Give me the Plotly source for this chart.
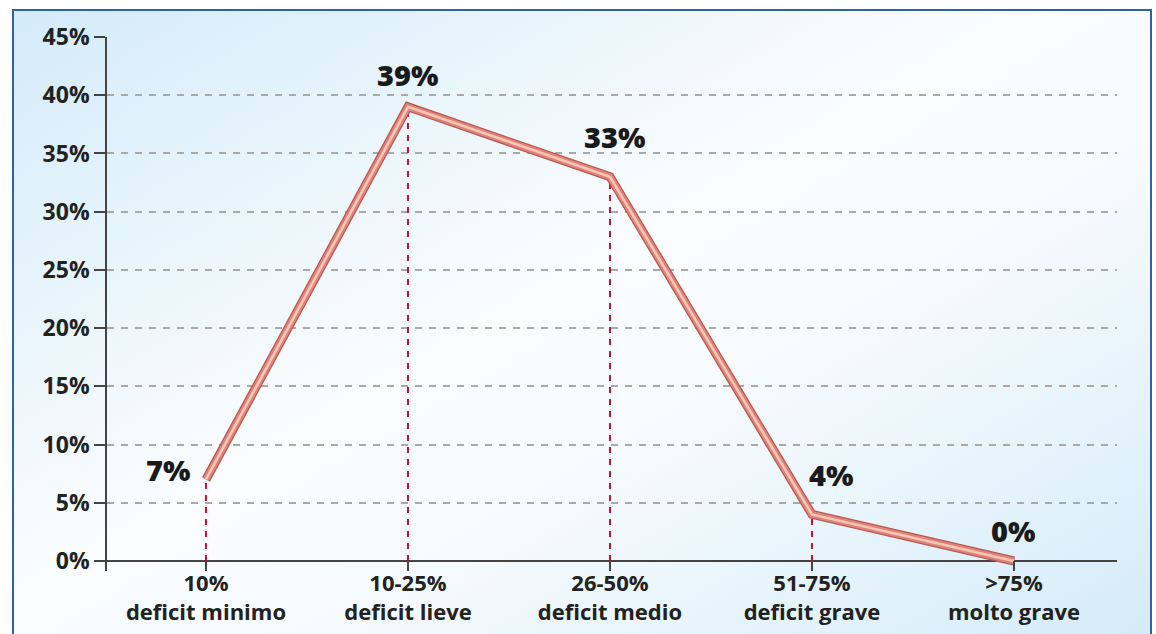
import base64
import plotly.graph_objects as go

# ---- data ----
categories = ["10%<br>deficit minimo", "10-25%<br>deficit lieve", "26-50%<br>deficit medio",
              "51-75%<br>deficit grave", ">75%<br>molto grave"]
values = [7, 39, 33, 4, 0]
value_labels = ["7%", "39%", "33%", "4%", "0%"]
y_ticks = [0, 5, 10, 15, 20, 25, 30, 35, 40, 45]

x_idx = list(range(len(categories)))

# ---- geometry ----
W, H = 1156, 634
L, R, T, B = 107, 39, 37, 63
pw, ph = W - L - R, H - T - B
XMIN, XMAX = -0.49, 4.51
YMIN, YMAX = -0.859, 45

# background gradient image with frame
svg = f'''<svg xmlns="http://www.w3.org/2000/svg" width="1140" height="640" viewBox="0 0 1140 640" preserveAspectRatio="none">
<defs><linearGradient id="g" x1="0" y1="0" x2="1" y2="1">
<stop offset="0" stop-color="#d3ebf9"/>
<stop offset="0.45" stop-color="#fbfdfe"/>
<stop offset="0.6" stop-color="#f6fbfe"/>
<stop offset="1" stop-color="#d2eaf8"/>
</linearGradient></defs>
<rect x="1" y="1" width="1138" height="660" fill="url(#g)" stroke="#2d62a6" stroke-width="2"/>
</svg>'''
src = "data:image/svg+xml;base64," + base64.b64encode(svg.encode()).decode()

fx0, fx1 = 12, 1152
fy0, fy1 = 9, 649
img_x = (fx0 - L) / pw
img_sx = (fx1 - fx0) / pw
img_y = (H - B - fy0) / ph
img_sy = (fy1 - fy0) / ph

fig = go.Figure()

# drop lines
dx, dy = [], []
for i, v in zip(x_idx, values):
    if v > 0:
        dx += [i, i, None]
        dy += [0, v, None]
fig.add_trace(go.Scatter(x=dx, y=dy, mode="lines",
                         line=dict(color="#c8102e", width=2, dash="6px,6px"),
                         hoverinfo="skip", showlegend=False))

# tube line (layers)
for col, w in [("#b85a52", 9), ("#e08378", 6.5), ("#f7c6b8", 2.6)]:
    fig.add_trace(go.Scatter(x=x_idx, y=values, mode="lines",
                             line=dict(color=col, width=w),
                             hoverinfo="skip", showlegend=False))

# value labels
shifts = [(-37, 10), (0, 32), (5, 40), (20, 40), (0, 31)]
for i, v, lab, (xs, ys) in zip(x_idx, values, value_labels, shifts):
    fig.add_annotation(x=i, y=v, text=lab, showarrow=False, xshift=xs, yshift=ys,
                       font=dict(family="Open Sans", size=29, color="#1a1a1a", weight=800))

fig.add_layout_image(dict(source=src, xref="paper", yref="paper", x=img_x, y=img_y,
                          sizex=img_sx, sizey=img_sy, sizing="stretch",
                          xanchor="left", yanchor="top", layer="below"))

xt_vals = [XMIN] + x_idx + [XMAX]
xt_text = [""] + categories + [""]

fig.update_layout(
    width=W, height=H,
    margin=dict(l=L, r=R, t=T, b=B, pad=0, autoexpand=False),
    paper_bgcolor="white", plot_bgcolor="rgba(0,0,0,0)",
    showlegend=False,
    xaxis=dict(range=[XMIN, XMAX], tickmode="array", tickvals=xt_vals, ticktext=xt_text,
               ticks="inside", ticklen=10, tickwidth=1.5, tickcolor="#444",
               showgrid=False, zeroline=False, showline=False, automargin=False,
               ticklabelstandoff=-3,
               tickfont=dict(family="Open Sans", size=22, color="#222", weight="bold")),
    yaxis=dict(range=[YMIN, YMAX], tickmode="array", tickvals=y_ticks,
               ticktext=[f"{t}%" for t in y_ticks],
               ticks="outside", ticklen=11, tickwidth=1.5, tickcolor="#444",
               showline=True, linecolor="#444", linewidth=1.5, automargin=False,
               showgrid=True, gridcolor="#a9a9a9", gridwidth=1.5, griddash="7px,7px",
               zeroline=True, zerolinecolor="#444", zerolinewidth=1.5,
               tickfont=dict(family="Open Sans", size=23, color="#222", weight="bold")),
)

fig.write_html("out.html")
